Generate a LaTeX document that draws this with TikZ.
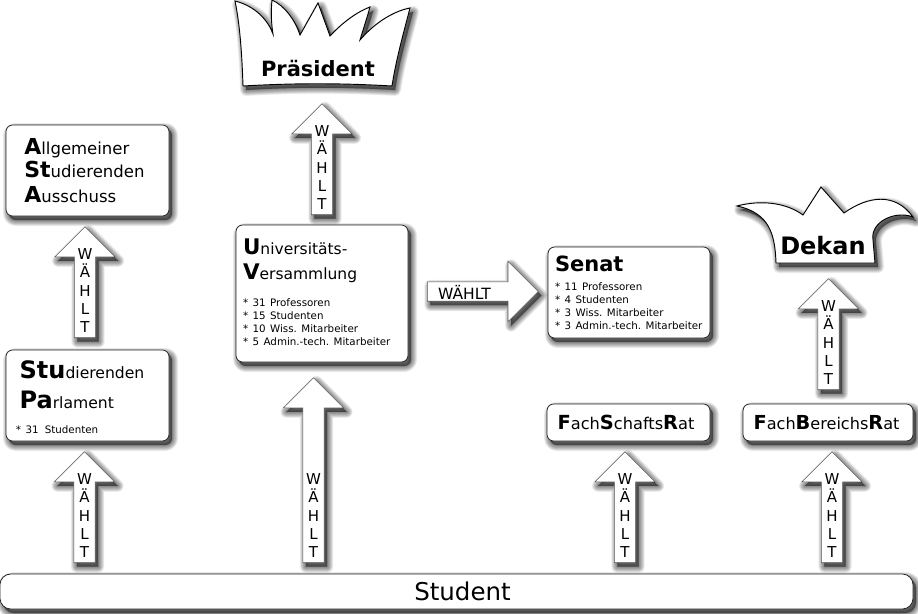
\documentclass[tikz,border=0pt]{standalone}
\usepackage{fontspec}
\setmainfont{DejaVu Sans}
\usetikzlibrary{shapes.arrows,shadows}

\def\pxu{0.75pt}
% Font sizes, given in pixels of the picture
\newcommand{\sizedtext}[2]{\fontsize{\dimexpr#1pt*3/4\relax}{\dimexpr#1pt*95/100\relax}\selectfont #2}
\newcommand{\initial}[2]{{\sizedtext{#1}{\bfseries #2}}}

\tikzset{
    softlayer/.style={general shadow={shadow xshift=2.3pt, shadow yshift=-3pt, draw=black, fill=black, line join=round, opacity=0.065, line width=#1}},
    softshadow/.style={softlayer=9pt, softlayer=8pt, softlayer=7pt, softlayer=6pt, softlayer=5pt, softlayer=4pt, softlayer=3pt, softlayer=2pt, softlayer=1pt, softlayer=0.1pt},
    orgbox/.style={rectangle, rounded corners=5pt, draw=black!85, line width=0.6pt, fill=white, softshadow, align=left, inner xsep=5.2pt, inner ysep=0pt},
    wahltarrow/.style={single arrow, draw=black!65, line width=0.4pt, fill=white, inner sep=7.8pt, single arrow head extend=14.6pt, single arrow head indent=0pt, anchor=tail, softshadow},
    wahltletters/.style={align=center, inner sep=0pt, font=\sizedtext{15}{}},
    crown/.style={draw=black, line width=0.7pt, fill=white, softshadow},
    crowntext/.style={inner sep=0pt},
}

\begin{document}
\frenchspacing
\begin{tikzpicture}[x=0.75pt, y=-0.75pt]
\useasboundingbox (0,0) rectangle (918,614);

% Boxes
\node[orgbox, minimum width=163*\pxu, minimum height=91*\pxu, text width=149*\pxu] (asta) at (87.5,170.5) {%
    \sizedtext{16.5}{\hspace*{8.5pt}\initial{22}{A}llgemeiner\\[2pt] \hspace*{8.5pt}\initial{22}{St}udierenden\\[2.7pt] \hspace*{8.5pt}\initial{22}{A}usschuss\par}};
\node[orgbox, minimum width=163*\pxu, minimum height=91*\pxu, text width=149*\pxu] (stupa) at (87.5,395.5) {%
    \rule{0pt}{15.8pt}\sizedtext{15.6}{\hspace*{5pt}\initial{24}{Stu}dierenden\\[8.4pt] \hspace*{5pt}\initial{24}{Pa}rlament}\\[8.9pt]
    \sizedtext{10.3}{\hspace*{2.2pt}* 31 \,Studenten\par}};
\node[orgbox, minimum width=172*\pxu, minimum height=137*\pxu, text width=158*\pxu] (uni) at (322,293.5) {%
    \sizedtext{15.5}{\initial{21.5}{U}niversitäts-\\[4.4pt] \initial{21.5}{V}ersammlung}\\[10.4pt]
    \sizedtext{10.3}{* 31 Professoren\\{}* 15 Studenten\\{}* 10 Wiss. Mitarbeiter\\{}* 5 Admin.-tech. Mitarbeiter\rule[-2.25pt]{0pt}{0pt}\par}};
\node[orgbox, minimum width=162*\pxu, minimum height=91*\pxu, text width=148*\pxu] (senat) at (629,292.5) {%
    \initial{21}{Senat}\\[4.5pt]
    \sizedtext{10.3}{* 11 Professoren\\{}* 4 Studenten\\{}* 3 Wiss. Mitarbeiter\\{}* 3 Admin.-tech. Mitarbeiter\par}};
\node[orgbox, minimum width=163*\pxu, minimum height=37*\pxu, align=center] (fsr) at (628.5,422.5) {%
    \hspace*{-3.7pt}\sizedtext{16.2}{\initial{19.4}{F}ach\initial{19.4}{S}chafts\initial{19.4}{R}at}};
\node[orgbox, minimum width=170*\pxu, minimum height=37*\pxu, align=center] (fbr) at (828,422.5) {%
    \hspace*{-2.2pt}\sizedtext{16.1}{\initial{19.3}{F}ach\initial{19.3}{B}ereichs\initial{19.3}{R}at}};
\node[orgbox, rounded corners=8pt, minimum width=913*\pxu, minimum height=35*\pxu, align=center] (student) at (456.5,591.5) {\hspace*{9pt}\sizedtext{24.5}{Student}};

% Crowns
\draw[crown] (235,1) .. controls (255,6) and (268,20) .. (273,34)
    .. controls (271,22) and (271,10) .. (272,0)
    .. controls (285,6) and (295,20) .. (300,35)
    -- (318,3) -- (330,36)
    .. controls (343,22) and (357,12) .. (370,7)
    .. controls (367,18) and (363,30) .. (360,40)
    .. controls (372,26) and (390,12) .. (410,8)
    .. controls (403,35) and (396,60) .. (392,86)
    .. controls (340,83) and (295,83) .. (243,86)
    .. controls (242,55) and (240,25) .. (235,1) -- cycle;
\node[crowntext, font=\bfseries\sizedtext{21}{}] (praesident) at (318,69) {Präsident};

\draw[crown] (737,206) .. controls (760,200) and (785,202) .. (803,215)
    -- (821,187) -- (844,213)
    .. controls (868,196) and (895,192) .. (913,217)
    .. controls (895,210) and (870,222) .. (873,240)
    -- (875,263) -- (776,263)
    .. controls (775,235) and (770,213) .. (737,206) -- cycle;
\node[crowntext, font=\bfseries\sizedtext{24}{}] (dekan) at (823,246) {Dekan};

% Upward arrows: name/x/tip/tail
\foreach \name/\x/\ytip/\ybot in {stupaarrow/84.5/452/563, astaarrow/85/227/338, uniarrow/313.5/378/563, praesarrow/322/104/215, fsrarrow/625/452/563, fbrarrow/832/452/563, dekanarrow/828.5/279/390} {
    \pgfmathsetmacro\len{\ybot-\ytip}
    \node[wahltarrow, rotate=90, minimum height=\len*\pxu] (\name) at (\x,\ybot) {};
    \node[wahltletters, anchor=south] (\name-text) at ([yshift=4pt]\name.tail) {W\\[-0.6pt]Ä\\[-0.6pt]H\\[-0.6pt]L\\[-0.6pt]T};
}

% Arrow from the Versammlung to the Senat
\node[wahltarrow, minimum height=111*\pxu, inner sep=7.1pt, single arrow head extend=15.4pt] (senatarrow) at (427,291.5) {};
\node[inner sep=0pt, font=\sizedtext{15.5}{}] (senatarrow-text) at (464.5,292) {WÄHLT};

\end{tikzpicture}
\end{document}
